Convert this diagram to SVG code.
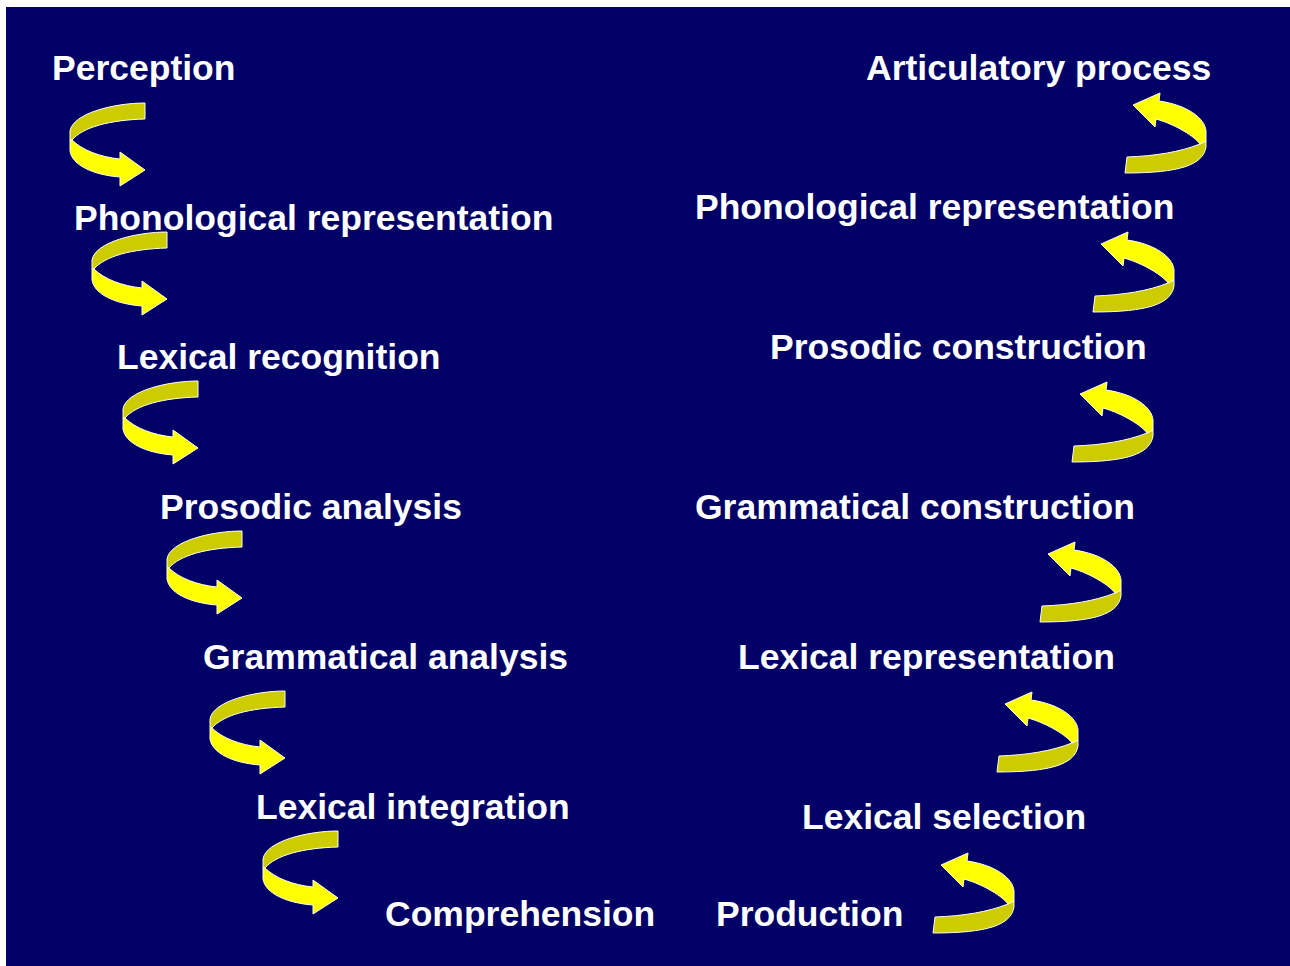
<svg xmlns="http://www.w3.org/2000/svg" width="1290" height="966" viewBox="0 0 1290 966">
<style>
.t{font-family:"Liberation Sans",Arial,sans-serif;font-weight:bold;font-size:35.5px;fill:#ffffff}
.hi{fill:#ffff00;stroke:#ffffee;stroke-width:1;stroke-linejoin:round}
.lo{fill:#cccc00;stroke:#ffffee;stroke-width:1;stroke-linejoin:round}
</style>
<defs>
<g id="la">
<path class="lo" d="M0,0 C-30,0 -72,10 -75,28 L-75,37 L-73,37 C-62,24 -35,17 0,16 Z"/>
<path class="hi" d="M-73,37 C-63,47 -45,54 -25,56 L-25,49 L0,67 L-25,83 L-25,74 C-52,72 -73,62 -75,48 L-75,37 Z"/>
</g>
<g id="ra">
<path class="lo" d="M0,0 L2,-16 C30,-17 55,-21 75,-29 L81,-32 L81,-26 C78,-8 55,0 0,0 Z"/>
<path class="hi" d="M75,-29 L81,-32 L81,-42 C80,-55 62,-68 34,-72 L35,-80 L8,-68 L30,-46 L31,-54 C52,-48 70,-36 75,-29 Z"/>
</g>
</defs>
<rect x="0" y="0" width="1290" height="966" fill="#ffffff"/>
<rect x="6" y="7" width="1284" height="959" fill="#000066"/>
<g id="connectors">
<use href="#la" x="145" y="103"/>
<use href="#la" x="167" y="232"/>
<use href="#la" x="198" y="381"/>
<use href="#la" x="242" y="531"/>
<use href="#la" x="285" y="691"/>
<use href="#la" x="338" y="831"/>
<use href="#ra" x="1125" y="173"/>
<use href="#ra" x="1093" y="312"/>
<use href="#ra" x="1072" y="462"/>
<use href="#ra" x="1040" y="622"/>
<use href="#ra" x="997" y="772"/>
<use href="#ra" x="933" y="933"/>
</g>
<g id="perception"><text class="t" x="52" y="80">Perception</text></g>
<g id="phon-rep-l"><text class="t" x="74" y="230">Phonological representation</text></g>
<g id="lex-recognition"><text class="t" x="117" y="369">Lexical recognition</text></g>
<g id="prosodic-analysis"><text class="t" x="160" y="519">Prosodic analysis</text></g>
<g id="grammatical-analysis"><text class="t" x="203" y="669">Grammatical analysis</text></g>
<g id="lex-integration"><text class="t" x="256" y="819">Lexical integration</text></g>
<g id="comprehension"><text class="t" x="385" y="926">Comprehension</text></g>
<g id="articulatory"><text class="t" x="866" y="80">Articulatory process</text></g>
<g id="phon-rep-r"><text class="t" x="695" y="219">Phonological representation</text></g>
<g id="prosodic-construction"><text class="t" x="770" y="359">Prosodic construction</text></g>
<g id="grammatical-construction"><text class="t" x="695" y="519">Grammatical construction</text></g>
<g id="lex-representation"><text class="t" x="738" y="669">Lexical representation</text></g>
<g id="lex-selection"><text class="t" x="802" y="829">Lexical selection</text></g>
<g id="production"><text class="t" x="716" y="926">Production</text></g>
</svg>
